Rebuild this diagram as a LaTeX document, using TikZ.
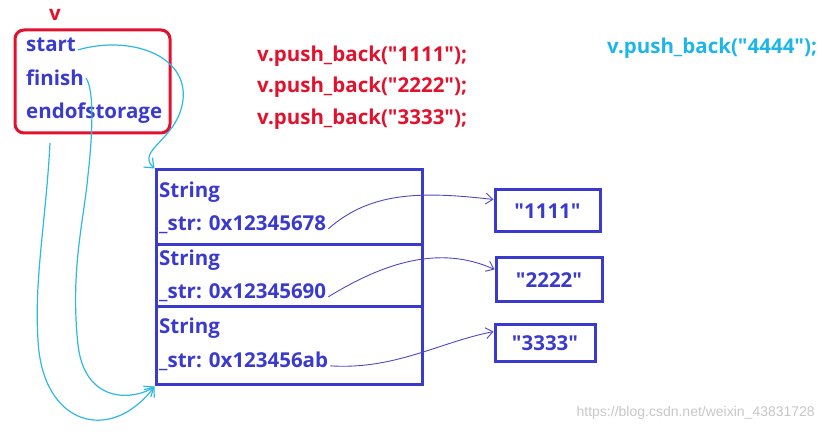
\documentclass[tikz,border=0pt]{standalone}
\usepackage{fontspec}
\newfontfamily\uifont{Open Sans}
\newfontfamily\markfont{Liberation Sans}
\usetikzlibrary{arrows.meta}
\definecolor{ptrblue}{RGB}{58,58,206}
\definecolor{codered}{RGB}{226,18,46}
\definecolor{newcyan}{RGB}{30,182,232}
\definecolor{handcyan}{RGB}{45,185,225}
\definecolor{handblue}{RGB}{80,70,200}
\tikzset{
    member/.style={anchor=base west, text=ptrblue, inner sep=2pt,
        font=\uifont\fontsize{20.5}{24}\selectfont\bfseries},
    cell/.style={draw=ptrblue, line width=3pt, minimum width=266pt, inner sep=0pt},
    valbox/.style={draw=ptrblue, line width=3pt, inner sep=0pt, text=ptrblue,
        font=\uifont\fontsize{20.5}{24}\selectfont\bfseries},
    code/.style={anchor=base west, inner sep=0pt, font=\uifont\fontsize{20.5}{24}\selectfont\bfseries},
    handline/.style={handblue, line width=0.9pt, -{Straight Barb[length=7pt,width=11pt]}},
    cyanline/.style={handcyan, line width=1.2pt, -{Straight Barb[length=8pt,width=13pt]}}
}
\begin{document}
\begin{tikzpicture}[x=1pt, y=-1pt]
    \useasboundingbox (0,0) rectangle (825,435);
    % vector object
    \node[draw=codered, line width=3pt, rounded corners=9pt, minimum width=155pt,
        minimum height=103pt] (vobj) at (92.5,81.5) {};
    \node[code, text=codered] (vname) at (49,21) {v};
    \node[member] (start) at (24,52) {start};
    \node[member] (finish) at (24,86) {finish};
    \node[member] (eos) at (24,119) {endofstorage};
    \coordinate (eosptr) at (50,143);
    % push_back calls
    \foreach \i/\y in {1/62,2/93,3/125} {
        \node[code, text=codered] (push\i) at (257,\y) {v.push\_back("\i\i\i\i");};
    }
    \node[code, text=newcyan] (push4) at (607,54) {v.push\_back("4444");};
    % String cells
    \foreach \i/\yc/\ht/\ys/\yp/\addr in {1/207.5/75/198/231/12345678,
        2/276/62/266/299/12345690, 3/346/78/334/368/123456ab} {
        \node[cell, minimum height=\ht pt] (cell\i) at (289,\yc) {};
        \node[member] (type\i) at (157,\ys) {String};
        \node[member] (ptr\i) at (157,\yp) {\_str: 0x\addr};
    }
    % string buffers
    \foreach \i/\x/\y/\w/\h in {1/547.5/211/105/42, 2/549/280/106/44, 3/545/343.5/100/37} {
        \node[valbox, minimum width=\w pt, minimum height=\h pt] (val\i) at (\x,\y) {"\i\i\i\i"};
    }
    % pointers to buffers
    \draw[handline] (ptr1.mid east) .. controls (370,192) and (420,191) .. (val1.168);
    \draw[handline] (ptr2.mid east) .. controls (385,262) and (440,245) .. (val2.169);
    \draw[handline] (ptr3.mid east) .. controls (395,370) and (440,342) .. (val3.167);
    % vector pointers
    \draw[cyanline] (start.mid east) .. controls (130,35) and (188,55) .. (183,100)
        .. controls (178,140) and (135,150) .. (cell1.north west);
    \draw[cyanline] (finish.east) .. controls (95,90) and (92,140) .. (88,175)
        .. controls (84,220) and (70,270) .. (78,345)
        .. controls (85,405) and (135,400) .. (cell3.south west);
    \draw[cyanline] (eosptr) .. controls (46,220) and (34,280) .. (38,340)
        .. controls (42,425) and (110,445) .. (cell3.south west);
    % watermark
    \node[anchor=east, inner sep=0pt, text=black!22, font=\markfont\fontsize{14}{16}\selectfont]
        (mark) at (815,413) {https://blog.csdn.net/weixin\_43831728};
\end{tikzpicture}
\end{document}
